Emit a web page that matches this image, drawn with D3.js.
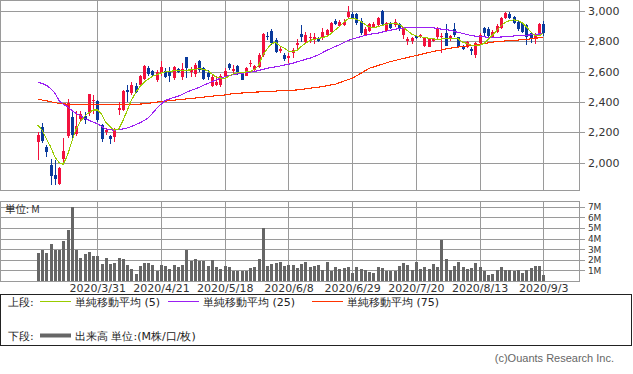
<!DOCTYPE html>
<html>
<head>
<meta charset="utf-8">
<script src="https://cdn.jsdelivr.net/npm/d3@7"></script>
<style>
body { margin: 0; background: #fff; }
.chart text { font-family: "DejaVu Sans", sans-serif; }
</style>
</head>
<body>
<div class="chart"></div>
<script>
// trading days shown (2020/3/10 .. 2020/9/3)
var dates = ["2020/3/10","2020/3/11","2020/3/12","2020/3/13","2020/3/16","2020/3/17","2020/3/18","2020/3/19","2020/3/23","2020/3/24","2020/3/25","2020/3/26","2020/3/27","2020/3/30","2020/3/31",
    "2020/4/1","2020/4/2","2020/4/3","2020/4/6","2020/4/7","2020/4/8","2020/4/9","2020/4/10","2020/4/13","2020/4/14","2020/4/15","2020/4/16","2020/4/17","2020/4/20","2020/4/21","2020/4/22","2020/4/23","2020/4/24","2020/4/27","2020/4/28","2020/4/30",
    "2020/5/1","2020/5/7","2020/5/8","2020/5/11","2020/5/12","2020/5/13","2020/5/14","2020/5/15","2020/5/18","2020/5/19","2020/5/20","2020/5/21","2020/5/22","2020/5/25","2020/5/26","2020/5/27","2020/5/28","2020/5/29",
    "2020/6/1","2020/6/2","2020/6/3","2020/6/4","2020/6/5","2020/6/8","2020/6/9","2020/6/10","2020/6/11","2020/6/12","2020/6/15","2020/6/16","2020/6/17","2020/6/18","2020/6/19","2020/6/22","2020/6/23","2020/6/24","2020/6/25","2020/6/26","2020/6/29","2020/6/30",
    "2020/7/1","2020/7/2","2020/7/3","2020/7/6","2020/7/7","2020/7/8","2020/7/9","2020/7/10","2020/7/13","2020/7/14","2020/7/15","2020/7/16","2020/7/17","2020/7/20","2020/7/21","2020/7/22","2020/7/27","2020/7/28","2020/7/29","2020/7/30","2020/7/31",
    "2020/8/3","2020/8/4","2020/8/5","2020/8/6","2020/8/7","2020/8/11","2020/8/12","2020/8/13","2020/8/14","2020/8/17","2020/8/18","2020/8/19","2020/8/20","2020/8/21","2020/8/24","2020/8/25","2020/8/26","2020/8/27","2020/8/28","2020/8/31",
    "2020/9/1","2020/9/2","2020/9/3"];

var opens = [2137,2234,2104,1982,1918,1857,2022,2176,2300,2192,2286,2306,2325,2405,2405,2251,2203,2174,2170,2350,
    2346,2478,2456,2505,2512,2551,2626,2606,2545,2593,2604,2606,2556,2617,2567,2694,2600,2584,2670,2622,
    2593,2505,2512,2512,2571,2650,2606,2637,2593,2571,2648,2611,2633,2710,2837,2868,2809,2738,2710,2688,
    2721,2776,2848,2798,2824,2809,2820,2825,2842,2864,2936,2901,2908,2963,2980,2980,2936,2842,2870,2897,
    2908,3000,2870,2919,2908,2914,2842,2804,2804,2835,2826,2769,2765,2804,2826,2826,2853,2813,2879,2826,
    2765,2765,2747,2710,2787,2886,2879,2831,2864,2886,2952,2980,2963,2930,2919,2908,2853,2813,2853,2914];
var highs = [2203,2264,2119,2026,2020,1972,2163,2419,2335,2339,2339,2335,2455,2449,2412,2258,2229,2181,2229,2401,
    2478,2511,2529,2523,2578,2644,2637,2611,2611,2670,2622,2633,2637,2622,2655,2699,2633,2655,2677,2633,
    2611,2578,2571,2584,2622,2655,2644,2644,2600,2633,2677,2644,2721,2853,2864,2879,2820,2765,2721,2721,
    2754,2815,2908,2864,2853,2853,2831,2885,2880,2930,2947,2940,2945,3033,2990,2985,2952,2895,2923,2930,
    2963,3005,2930,2925,2945,2920,2897,2826,2826,2842,2850,2826,2820,2820,2892,2853,2914,2842,2923,2831,
    2776,2800,2765,2798,2853,2892,2892,2875,2914,2958,2990,2996,2968,2936,2923,2914,2857,2853,2923,2936];
var lows = [2015,2132,2037,1850,1855,1850,2004,2163,2148,2176,2269,2258,2310,2324,2269,2137,2185,2126,2137,2313,
    2339,2401,2445,2457,2500,2545,2571,2562,2534,2571,2556,2534,2545,2589,2545,2556,2567,2562,2600,2545,
    2545,2496,2505,2500,2556,2611,2589,2578,2545,2571,2633,2600,2622,2699,2809,2776,2725,2721,2670,2655,
    2688,2743,2798,2787,2791,2780,2793,2810,2835,2857,2908,2895,2900,2945,2945,2908,2842,2835,2864,2890,
    2897,2908,2860,2880,2895,2870,2813,2776,2782,2813,2820,2760,2760,2798,2813,2720,2769,2800,2830,2760,
    2743,2755,2710,2688,2776,2835,2830,2820,2853,2880,2945,2945,2915,2870,2853,2776,2790,2782,2850,2835];
var closes = [2185,2141,2071,1912,1895,1965,2079,2396,2181,2242,2324,2280,2452,2415,2284,2159,2214,2159,2214,2361,
    2471,2467,2511,2468,2571,2639,2584,2578,2600,2633,2567,2571,2633,2600,2617,2622,2611,2644,2611,2551,
    2562,2567,2534,2571,2606,2622,2615,2600,2545,2622,2655,2637,2710,2848,2826,2787,2732,2747,2681,2703,
    2743,2787,2826,2842,2831,2831,2804,2858,2875,2919,2914,2930,2930,2996,2952,2923,2853,2879,2914,2914,
    2952,2914,2923,2886,2930,2879,2892,2813,2820,2820,2842,2820,2813,2813,2879,2835,2769,2835,2842,2765,
    2747,2798,2738,2787,2842,2853,2835,2864,2901,2952,2985,2952,2923,2879,2864,2831,2813,2835,2914,2853];

// volume, millions
var volumes = [2.61,2.92,2.67,3.49,2.92,2.92,3.77,4.81,6.95,2.92,2.14,2.52,2.70,2.36,2.36,1.60,2.14,1.60,1.67,2.14,
    2.04,1.51,1.13,0.66,1.42,1.67,1.67,1.51,0.97,1.48,1.42,1.13,1.48,1.32,1.51,2.92,1.89,2.08,1.89,1.89,
    1.42,1.98,1.32,1.13,1.42,1.32,0.97,0.97,0.97,0.97,1.19,1.32,2.04,4.97,1.42,1.60,1.70,1.76,1.42,1.51,
    1.50,1.20,1.60,1.80,1.30,1.40,1.50,1.05,1.80,0.95,1.35,1.10,1.20,1.30,0.80,1.30,1.10,1.00,0.85,0.80,
    1.35,1.25,0.95,0.90,0.90,1.40,1.70,1.50,1.05,1.80,1.10,1.30,1.10,1.60,1.35,3.90,2.05,1.00,1.40,1.75,
    1.35,1.15,1.25,1.70,1.35,0.95,0.60,0.70,1.00,1.35,1.05,1.00,0.95,1.00,0.80,1.00,1.25,1.45,1.40,0.55];

// moving averages as drawn
var ma5 = [2248,2215,2160,2105,2040,2000,1990,2050,2140,2220,2270,2305,2330,2347,2347,2320,2265,2237,2215,2218,
    2275,2340,2410,2460,2500,2530,2550,2570,2580,2590,2598,2602,2605,2606,2606,2610,2611,2615,2620,2615,
    2605,2585,2563,2558,2556,2570,2585,2592,2595,2598,2600,2615,2640,2710,2750,2785,2793,2770,2755,2735,
    2733,2740,2765,2787,2805,2812,2818,2825,2832,2850,2875,2897,2925,2947,2952,2945,2932,2912,2895,2890,
    2895,2905,2912,2916,2919,2912,2893,2870,2848,2836,2831,2825,2820,2818,2810,2815,2820,2820,2820,2815,
    2795,2785,2775,2771,2775,2785,2812,2840,2870,2900,2925,2935,2941,2938,2922,2895,2864,2838,2835,2853];
var ma25 = [2530,2522,2510,2490,2460,2410,2385,2369,2345,2325,2310,2292,2280,2268,2257,2240,2222,2216,2215,2217,
    2222,2228,2238,2250,2262,2278,2295,2325,2358,2385,2410,2420,2430,2437,2450,2464,2475,2486,2497,2510,
    2522,2534,2545,2556,2567,2573,2580,2585,2589,2593,2597,2601,2608,2615,2622,2627,2632,2637,2643,2649,
    2655,2664,2672,2681,2688,2698,2710,2725,2740,2752,2765,2777,2790,2805,2815,2822,2830,2838,2845,2850,
    2853,2860,2866,2873,2879,2884,2887,2890,2892,2892,2892,2892,2891,2889,2885,2880,2877,2873,2866,2858,
    2852,2845,2838,2834,2831,2829,2827,2826,2826,2828,2830,2832,2835,2836,2838,2840,2842,2845,2848,2850];
var ma75 = [2418,2413,2408,2402,2396,2391,2387,2386,2385,2385,2384,2384,2384,2384,2384,2383,2383,2384,2384,2384,
    2384,2385,2385,2385,2386,2388,2391,2395,2399,2402,2405,2409,2412,2415,2418,2420,2423,2426,2429,2432,
    2435,2438,2441,2444,2446,2451,2455,2457,2459,2461,2463,2465,2466,2468,2469,2471,2472,2474,2475,2476,
    2478,2479,2482,2486,2490,2494,2498,2501,2507,2512,2517,2527,2537,2547,2556,2572,2588,2605,2622,2630,
    2640,2648,2657,2666,2673,2680,2686,2693,2699,2706,2712,2719,2726,2732,2738,2743,2749,2754,2758,2762,
    2765,2769,2772,2776,2780,2785,2789,2794,2798,2800,2802,2804,2806,2808,2810,2813,2816,2819,2823,2827];

var dateTicks = ["2020/3/31","2020/4/21","2020/5/18","2020/6/8","2020/6/29","2020/7/20","2020/8/13","2020/9/3"];
var priceTicks = [2000,2200,2400,2600,2800,3000];
var volTicks = [1,2,3,4,5,6,7];

var fullWidth = 633, fullHeight = 374;
var panel = {left: 0, right: 579, top: 0, bottom: 190};
var vpanel = {top: 201, bottom: 281};
var gridColor = `#9a9a9a`;

var svg = d3.select(`.chart`)
    .append(`svg`)
    .attr(`width`, fullWidth)
    .attr(`height`, fullHeight)
    .attr(`viewBox`, `0 0 ${fullWidth} ${fullHeight}`)
    .style(`display`, `block`);

var xScale = d3.scalePoint()
    .domain(dates)
    .range([37.8, 543.3]);

var yScale = d3.scaleLinear()
    .domain([1820, 3072])
    .range([panel.bottom, panel.top]);

var vScale = d3.scaleLinear()
    .domain([0, 7.54])
    .range([vpanel.bottom, vpanel.top]);

var px = v => Math.round(v) + 0.5;
var idx = d3.range(dates.length);

// grid
var grid = svg.append(`g`)
    .attr(`stroke`, gridColor)
    .attr(`stroke-width`, 1)
    .attr(`shape-rendering`, `crispEdges`);

grid.selectAll(`.hp`)
    .data(priceTicks)
    .enter().append(`line`)
    .attr(`x1`, panel.left)
    .attr(`x2`, panel.right)
    .attr(`y1`, d => px(yScale(d)))
    .attr(`y2`, d => px(yScale(d)));

grid.selectAll(`.hv`)
    .data(volTicks)
    .enter().append(`line`)
    .attr(`x1`, panel.left)
    .attr(`x2`, panel.right)
    .attr(`y1`, d => px(vScale(d)))
    .attr(`y2`, d => px(vScale(d)));

grid.selectAll(`.vp`)
    .data(dateTicks)
    .enter().append(`line`)
    .attr(`x1`, d => px(xScale(d)))
    .attr(`x2`, d => px(xScale(d)))
    .attr(`y1`, panel.top)
    .attr(`y2`, panel.bottom);

grid.selectAll(`.vv`)
    .data(dateTicks)
    .enter().append(`line`)
    .attr(`x1`, d => px(xScale(d)))
    .attr(`x2`, d => px(xScale(d)))
    .attr(`y1`, vpanel.top)
    .attr(`y2`, vpanel.bottom);

grid.append(`rect`)
    .attr(`x`, 0.5).attr(`y`, 0.5)
    .attr(`width`, panel.right - 0.5).attr(`height`, panel.bottom - 0.5)
    .attr(`fill`, `none`);

grid.append(`rect`)
    .attr(`x`, 0.5).attr(`y`, vpanel.top + 0.5)
    .attr(`width`, panel.right - 0.5).attr(`height`, vpanel.bottom - vpanel.top - 0.5)
    .attr(`fill`, `none`);

// candles
var candles = svg.append(`g`).attr(`shape-rendering`, `crispEdges`);
var upColor = `#f2113d`, downColor = `#0a3a9c`;

candles.selectAll(`.wick`)
    .data(idx)
    .enter().append(`line`)
    .attr(`x1`, i => px(xScale(dates[i])))
    .attr(`x2`, i => px(xScale(dates[i])))
    .attr(`y1`, i => yScale(highs[i]))
    .attr(`y2`, i => yScale(lows[i]))
    .attr(`stroke`, i => closes[i] >= opens[i] ? upColor : downColor);

candles.selectAll(`.body`)
    .data(idx)
    .enter().append(`rect`)
    .attr(`x`, i => Math.round(xScale(dates[i])) - 1)
    .attr(`width`, 3)
    .attr(`y`, i => yScale(Math.max(opens[i], closes[i])))
    .attr(`height`, i => Math.max(1, Math.abs(yScale(opens[i]) - yScale(closes[i]))))
    .attr(`fill`, i => closes[i] >= opens[i] ? upColor : downColor);

// moving averages
var maLine = arr => d3.line()
    .x(i => xScale(dates[i]))
    .y(i => yScale(arr[i]))(idx);

[[ma75, `#ff3300`], [ma25, `#9b1ff2`], [ma5, `#99cc00`]].forEach(function (m) {
    svg.append(`path`)
        .attr(`d`, maLine(m[0]))
        .attr(`fill`, `none`)
        .attr(`stroke`, m[1])
        .attr(`stroke-width`, 1.1)
        .attr(`shape-rendering`, `crispEdges`);
});

// volume
svg.append(`g`)
    .attr(`shape-rendering`, `crispEdges`)
    .selectAll(`rect`)
    .data(idx)
    .enter().append(`rect`)
    .attr(`x`, i => Math.round(xScale(dates[i])) - 1)
    .attr(`width`, 3)
    .attr(`y`, i => vScale(volumes[i]))
    .attr(`height`, i => vpanel.bottom - vScale(volumes[i]))
    .attr(`fill`, `#666`);

// axes
function styleAxis(g, size) {
    g.select(`.domain`).remove();
    g.selectAll(`line`).attr(`stroke`, gridColor).attr(`shape-rendering`, `crispEdges`);
    g.selectAll(`text`).attr(`fill`, `#333`).style(`font-size`, size);
}

svg.append(`g`)
    .attr(`transform`, `translate(${panel.right},0)`)
    .call(d3.axisRight(yScale).tickValues(priceTicks).tickSize(6).tickPadding(3).tickFormat(d3.format(`,`)))
    .call(g => styleAxis(g, `11px`));

svg.append(`g`)
    .attr(`transform`, `translate(${panel.right},0)`)
    .call(d3.axisRight(vScale).tickValues(volTicks).tickSize(6).tickPadding(3).tickFormat(d => d + `M`))
    .call(g => styleAxis(g, `9px`))
    .selectAll(`text`).attr(`letter-spacing`, `-0.3px`);

svg.append(`g`)
    .attr(`transform`, `translate(0,${vpanel.bottom})`)
    .call(d3.axisBottom(xScale).tickValues(dateTicks).tickSize(0).tickPadding(3))
    .call(g => styleAxis(g, `11px`));

svg.append(`text`)
    .attr(`x`, 5).attr(`y`, 213)
    .style(`font-family`, `"Noto Sans CJK JP", sans-serif`)
    .style(`font-size`, `10.5px`)
    .attr(`fill`, `#333`)
    .text(`単位: M`);

// legend
var legend = svg.append(`g`).style(`font-family`, `"Noto Sans CJK JP", sans-serif`).style(`font-size`, `11px`);
legend.append(`rect`)
    .attr(`x`, 0.5).attr(`y`, 294.5)
    .attr(`width`, 631).attr(`height`, 51)
    .attr(`fill`, `none`).attr(`stroke`, `#222`)
    .attr(`shape-rendering`, `crispEdges`);

var legendRows = [
    {label: `上段:`, y: 306, items: [
        {x: 40, color: `#99cc00`, w: 1, text: `単純移動平均 (5)`},
        {x: 168, color: `#9b1ff2`, w: 1, text: `単純移動平均 (25)`},
        {x: 312, color: `#ff3300`, w: 1, text: `単純移動平均 (75)`}]},
    {label: `下段:`, y: 340, items: [
        {x: 40, color: `#666`, w: 4, text: `出来高 単位:(M株/口/枚)`}]}
];

legendRows.forEach(function (row) {
    legend.append(`text`).attr(`x`, 8).attr(`y`, row.y).attr(`fill`, `#222`).text(row.label);
    row.items.forEach(function (it) {
        legend.append(`line`)
            .attr(`x1`, it.x).attr(`x2`, it.x + 31)
            .attr(`y1`, row.y - 4.5).attr(`y2`, row.y - 4.5)
            .attr(`stroke`, it.color).attr(`stroke-width`, it.w);
        legend.append(`text`).attr(`x`, it.x + 35).attr(`y`, row.y).attr(`fill`, `#222`).text(it.text);
    });
});

svg.append(`text`)
    .attr(`x`, 614).attr(`y`, 362)
    .attr(`text-anchor`, `end`)
    .style(`font-family`, `"Liberation Sans", sans-serif`)
    .style(`font-size`, `11px`)
    .attr(`fill`, `#666`)
    .text(`(c)Ouants Research Inc.`);
</script>
</body>
</html>
